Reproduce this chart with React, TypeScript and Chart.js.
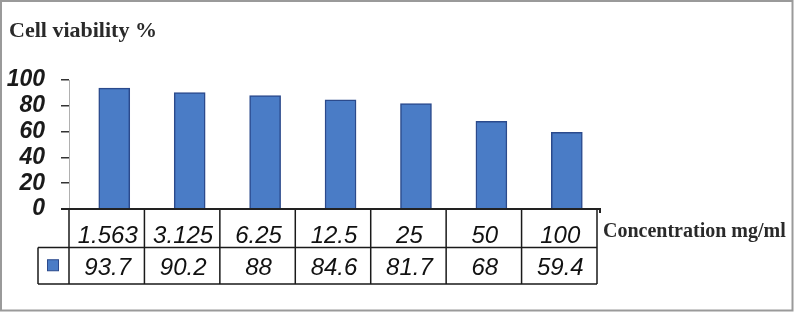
import React, { useEffect, useRef } from "react";
import { Chart, registerables } from "chart.js";

Chart.register(...registerables);

const categories = ["1.563", "3.125", "6.25", "12.5", "25", "50", "100"];
const viability = [93.7, 90.2, 88, 84.6, 81.7, 68, 59.4];
const viabilityLabels = ["93.7", "90.2", "88", "84.6", "81.7", "68", "59.4"];
const yMin = 0;
const yMax = 100;
const yStep = 20;
const titleText = "Cell viability %";
const xTitleText = "Concentration mg/ml";

const BAR_SHIFT = 0.1;
const BAR_FILL = "#4a7cc6";
const BAR_BORDER = "#2b4a8c";
const SANS = '"Liberation Sans", Arial, sans-serif';
const SERIF = '"Liberation Serif", "Times New Roman", serif';

const tablePlugin = {
  id: "tablePlugin",
  beforeDraw(chart: any) {
    const ctx = chart.ctx;
    ctx.save();
    ctx.fillStyle = "#ffffff";
    ctx.fillRect(0, 0, chart.width, chart.height);
    ctx.restore();
  },
  afterDraw(chart: any) {
    const ctx = chart.ctx;
    const xs = chart.scales.x;
    const area = chart.chartArea;
    const n = categories.length;
    const edges: number[] = [];
    for (let k = 0; k <= n; k++) edges.push(xs.getPixelForValue(k - 0.5 - BAR_SHIFT));
    const top = area.bottom;
    const row1 = top + 38.5;
    const row2 = row1 + 36.5;
    const legendLeft = edges[0] - 31;

    ctx.save();
    // outer frame
    ctx.strokeStyle = "#9a9a9a";
    ctx.lineWidth = 2;
    ctx.strokeRect(1, 1, chart.width - 2.5, chart.height - 2.5);

    // table lines
    ctx.strokeStyle = "#1a1a1a";
    ctx.lineWidth = 1.5;
    ctx.beginPath();
    ctx.moveTo(legendLeft, row1);
    ctx.lineTo(edges[n], row1);
    ctx.moveTo(legendLeft, row2);
    ctx.lineTo(edges[n], row2);
    ctx.moveTo(legendLeft, row1);
    ctx.lineTo(legendLeft, row2);
    for (let k = 0; k <= n; k++) {
      ctx.moveTo(edges[k], top);
      ctx.lineTo(edges[k], row2);
    }
    ctx.stroke();

    // x axis line
    ctx.lineWidth = 2;
    ctx.strokeStyle = "#222";
    ctx.beginPath();
    ctx.moveTo(area.left - 8, top);
    ctx.lineTo(edges[n] + 4, top);
    ctx.moveTo(edges[n] + 3, top);
    ctx.lineTo(edges[n] + 3, top + 4);
    ctx.stroke();

    // legend marker
    const mx = (legendLeft + edges[0]) / 2;
    const my = (row1 + row2) / 2;
    ctx.fillStyle = BAR_FILL;
    ctx.fillRect(mx - 6, my - 6, 11, 11);
    ctx.strokeStyle = BAR_BORDER;
    ctx.lineWidth = 1;
    ctx.strokeRect(mx - 6, my - 6, 11, 11);

    // cell text
    ctx.fillStyle = "#111";
    ctx.font = "italic 24px " + SANS;
    ctx.textAlign = "center";
    ctx.textBaseline = "alphabetic";
    for (let i = 0; i < n; i++) {
      const cx = (edges[i] + edges[i + 1]) / 2 + 1;
      ctx.fillText(categories[i], cx, row1 - 5);
      ctx.fillText(viabilityLabels[i], cx, row2 - 9);
    }

    // titles
    ctx.fillStyle = "#2a2a2a";
    ctx.textAlign = "left";
    ctx.font = "bold 22px " + SERIF;
    ctx.fillText(titleText, 9, 37);
    ctx.font = "bold 20px " + SERIF;
    ctx.fillText(xTitleText, edges[n] + 6, top + 28);
    ctx.restore();
  },
};

export default function App() {
  const ref = useRef<HTMLCanvasElement | null>(null);
  useEffect(() => {
    document.body.style.margin = "0";
    if (!ref.current) return;
    const chart = new Chart(ref.current, {
      type: "bar",
      data: {
        datasets: [
          {
            data: viability.map((v, i) => ({ x: i, y: v })),
            backgroundColor: BAR_FILL,
            borderColor: BAR_BORDER,
            borderWidth: 1.5,
            barThickness: 31,
          },
        ],
      },
      options: {
        animation: false,
        responsive: false,
        events: [],
        layout: { padding: { left: 0, top: 80, right: 197, bottom: 103 } },
        plugins: { legend: { display: false }, tooltip: { enabled: false }, title: { display: false } },
        scales: {
          x: {
            type: "linear",
            offset: false,
            min: -0.5 - BAR_SHIFT,
            max: categories.length - 0.5 - BAR_SHIFT,
            display: false,
          },
          y: {
            min: yMin,
            max: yMax,
            afterFit(scale: any) {
              scale.width = 69;
            },
            ticks: {
              stepSize: yStep,
              autoSkip: false,
              padding: 16,
              color: "#1a1a1a",
              font: { family: SANS, size: 23, style: "italic", weight: "bold" },
            },
            grid: { drawOnChartArea: false, drawTicks: true, tickLength: 8, color: "#333", lineWidth: 1.5 },
            border: { display: true, color: "#b0b0b0", width: 1 },
          },
        },
      },
      plugins: [tablePlugin],
    });
    return () => chart.destroy();
  }, []);
  return (
    <div style={{ width: 794, height: 312 }}>
      <canvas ref={ref} width={794} height={312} />
    </div>
  );
}
